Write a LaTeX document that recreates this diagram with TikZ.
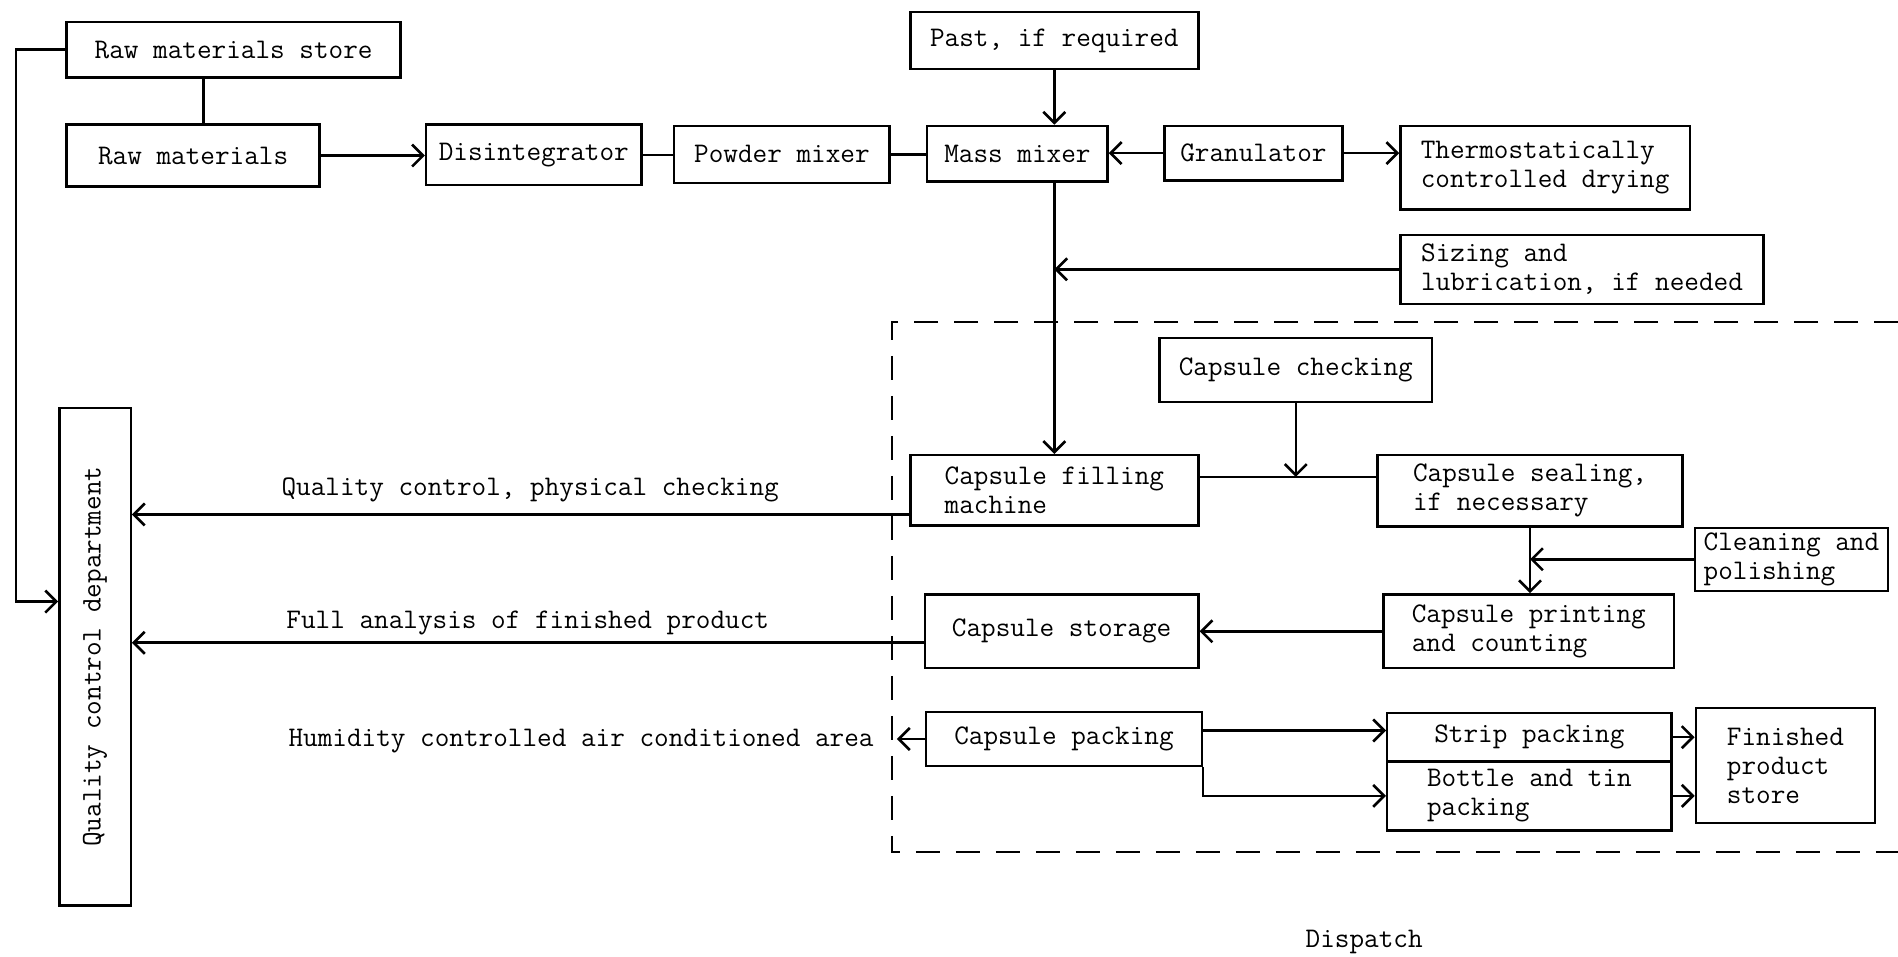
\documentclass[tikz,border=0pt]{standalone}
\usepackage{fontspec}
\usepackage{graphicx}
\usetikzlibrary{arrows.meta,calc}
\begin{document}
\begin{tikzpicture}[x=0.6053pt,y=-0.6053pt,
  box/.style={draw, line width=1.2pt, inner sep=2pt, align=left, font=\ttfamily\fontsize{14.2}{14.5}\selectfont},
  ln/.style={line width=1.3pt},
  arr/.style={line width=1.3pt, -{Straight Barb[length=5.5pt,width=11pt]}},
  lbl/.style={font=\ttfamily\fontsize{14.2}{14.5}\selectfont, inner sep=0pt}]
\useasboundingbox (0,0) rectangle (1568,790);

\node[box, minimum width=167pt, minimum height=27.8pt] (rms) at (193,41) {Raw materials store};
\node[box, minimum width=126.5pt, minimum height=30.9pt] (rm) at (159.5,128.5) {Raw materials};
\node[box, minimum width=107.7pt, minimum height=30.3pt] (dis) at (441,128) {Disintegrator};
\node[box, minimum width=107.7pt, minimum height=28.4pt] (pow) at (646,127.5) {Powder mixer};
\node[box, minimum width=90.2pt, minimum height=27.8pt] (mass) at (840.5,127) {Mass mixer};
\node[box, minimum width=89pt, minimum height=27.2pt] (gran) at (1035.5,126.5) {Granulator};
\node[box, minimum width=144.7pt, minimum height=41.8pt] (thermo) at (1276.5,138.5) {Thermostatically\\controlled drying};
\node[box, minimum width=144pt, minimum height=28.4pt] (past) at (871,33.5) {Past, if required};
\node[box, minimum width=181.6pt, minimum height=34.5pt] (size) at (1307,222.5) {Sizing and\\lubrication, if needed};
\node[box, minimum width=136.2pt, minimum height=32.1pt] (check) at (1070.5,305.5) {Capsule checking};
\node[box, minimum width=144pt, minimum height=35.1pt] (fill) at (871,405) {Capsule filling\\machine};
\node[box, minimum width=152.5pt, minimum height=35.7pt] (seal) at (1264,405.5) {Capsule sealing,\\if necessary};
\node[box, minimum width=96.8pt, minimum height=31.5pt] (clean) at (1480,462) {Cleaning and\\polishing};
\node[box, minimum width=136.8pt, minimum height=36.9pt] (stor) at (877,521.5) {Capsule storage};
\node[box, minimum width=145.3pt, minimum height=36.9pt] (print) at (1263,521.5) {Capsule printing\\and counting};
\node[box, minimum width=138pt, minimum height=27.2pt] (pack) at (879,610.5) {Capsule packing};
\node[box, minimum width=142.2pt, minimum height=24.2pt] (strip) at (1263.5,609) {Strip packing};
\node[box, minimum width=142.2pt, minimum height=34.5pt] (bottle) at (1263.5,657.5) {Bottle and tin\\packing};
\node[box, minimum width=89.6pt, minimum height=57.5pt] (fin) at (1475,632.5) {Finished\\product\\store};
\node[box, minimum width=35.7pt, minimum height=248.8pt] (qc) at (78.5,542.5) {\rotatebox{90}{Quality control department}};

\draw[line width=1.3pt, dash pattern=on 12pt off 8pt] (1568,266) -- (737,266) -- (737,704) -- (1568,704);

\draw[arr] (rms.west) -- ++(-41,0) |- ($(qc.west)+(0,-45.5)$);
\coordinate (a1) at ($(rms.south)+(-25,0)$);
\draw[ln] (a1) -- (a1 |- rm.north);
\draw[arr] (rm.east) -- (rm.east -| dis.west);
\draw[ln] (dis.east) -- (dis.east -| pow.west);
\draw[ln] (pow.east) -- (pow.east -| mass.west);
\draw[arr] (gran.west) -- (gran.west -| mass.east);
\draw[arr] (gran.east) -- (gran.east -| thermo.west);
\draw[arr] (past.south) -- (past.south |- mass.north);
\draw[arr] (fill.north |- mass.south) -- (fill.north);
\draw[arr] (size.west) -- (size.west -| fill.north);
\coordinate (fsl) at ($(fill.east)+(0,-11)$);
\draw[ln] (fsl) -- (fsl -| seal.west);
\draw[arr] (check.south) -- (check.south |- fsl);
\draw[arr] (seal.south) -- (seal.south |- print.north);
\draw[arr] (clean.west) -- (clean.west -| seal.south);
\draw[arr] (print.west) -- (print.west -| stor.east);
\coordinate (fq) at ($(fill.west)+(0,20)$);
\draw[arr] (fq) -- (fq -| qc.east);
\coordinate (sq) at ($(stor.west)+(0,9.5)$);
\draw[arr] (sq) -- (sq -| qc.east);
\draw[arr] (pack.west) -- ++(-23,0);
\coordinate (ps) at ($(pack.east)+(0,-7)$);
\draw[arr] (ps) -- (ps -| strip.west);
\draw[arr] (pack.south east) |- (bottle.west);
\draw[arr] (strip.east) -- (strip.east -| fin.west);
\draw[arr] (bottle.east) -- (bottle.east -| fin.west);

\node[lbl] (l1) at (438,405) {Quality control, physical checking};
\node[lbl] (l2) at (436,515) {Full analysis of finished product};
\node[lbl] (l3) at (480,612) {Humidity controlled air conditioned area};
\node[lbl] (l4) at (1127,778) {Dispatch};
\end{tikzpicture}
\end{document}
